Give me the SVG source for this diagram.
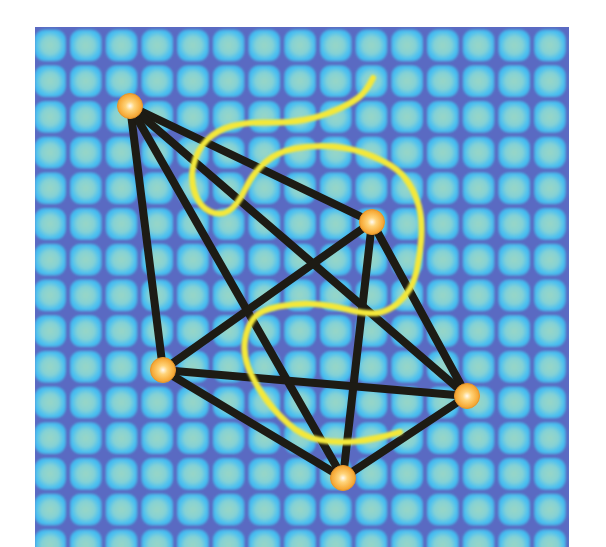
<svg xmlns="http://www.w3.org/2000/svg" width="606" height="547" viewBox="0 0 606 547">
  <defs>
    <radialGradient id="cellGrad" cx="50%" cy="50%" r="60%">
      <stop offset="0" stop-color="#98d6c6"/>
      <stop offset="0.45" stop-color="#86d2d4"/>
      <stop offset="0.75" stop-color="#4cc0f0"/>
      <stop offset="1" stop-color="#3cb2ec"/>
    </radialGradient>
    <pattern id="grid" patternUnits="userSpaceOnUse" x="32.3" y="27.6" width="35.7" height="35.7">
      <rect width="35.7" height="35.7" fill="#5a6ac2"/>
      <rect x="2.3" y="2.3" width="31.1" height="31.1" rx="10" fill="url(#cellGrad)"/>
    </pattern>
    <filter id="soft" x="-5%" y="-5%" width="110%" height="110%">
      <feGaussianBlur stdDeviation="1.3"/>
    </filter>
    <filter id="glow" x="-10%" y="-10%" width="120%" height="120%">
      <feGaussianBlur stdDeviation="0.8"/>
    </filter>
    <clipPath id="gridClip">
      <rect x="35" y="27" width="534" height="520"/>
    </clipPath>
    <radialGradient id="nodeGrad" cx="50%" cy="50%" r="50%">
      <stop offset="0" stop-color="#fffbf2"/>
      <stop offset="0.35" stop-color="#ffd47a"/>
      <stop offset="0.8" stop-color="#f8b040"/>
      <stop offset="1" stop-color="#f0a030"/>
    </radialGradient>
    <style>
      .edge { stroke: #1d1b14; stroke-width: 8; stroke-linecap: round; fill: none; }
      .node { fill: url(#nodeGrad); stroke: #e8962a; stroke-width: 1; }
      .curve { stroke: #f3e83a; stroke-width: 6; fill: none; stroke-linecap: round; stroke-linejoin: round; }
    </style>
  </defs>
  <rect width="606" height="547" fill="#ffffff"/>
  <g id="background" clip-path="url(#gridClip)">
    <rect x="20" y="12" width="566" height="550" fill="url(#grid)" filter="url(#soft)"/>
  </g>
  <g id="connectors">
    <line class="edge" x1="130" y1="106" x2="372" y2="222"/>
    <line class="edge" x1="130" y1="106" x2="163" y2="370"/>
    <line class="edge" x1="130" y1="106" x2="467" y2="396"/>
    <line class="edge" x1="130" y1="106" x2="343" y2="478"/>
    <line class="edge" x1="372" y1="222" x2="163" y2="370"/>
    <line class="edge" x1="372" y1="222" x2="467" y2="396"/>
    <line class="edge" x1="372" y1="222" x2="343" y2="478"/>
    <line class="edge" x1="163" y1="370" x2="467" y2="396"/>
    <line class="edge" x1="163" y1="370" x2="343" y2="478"/>
    <line class="edge" x1="467" y1="396" x2="343" y2="478"/>
  </g>
  <g id="curve">
    <path class="curve" filter="url(#glow)" d="M373,78 Q366,92 358,98 Q350,104 335,110.5 Q320,117 303.5,120 Q287,123 267,122.5 Q247,122 232,126 Q217,130 207,140 Q197,150 193.5,165 Q190,180 195,193.5 Q200,207 210,211.5 Q220,216 228.5,211 Q237,206 245,189.5 Q253,173 265,162.5 Q277,152 295,148.5 Q313,145 333,146.5 Q353,148 373,156.5 Q393,165 401.5,174 Q410,183 415,195 Q420,207 421,218.5 Q422,230 421,241.5 Q420,253 417.5,266.5 Q415,280 410,288.5 Q405,297 397.5,303.5 Q390,310 380,312.5 Q370,315 350,310 Q330,305 313.5,304 Q297,303 278.5,306.5 Q260,310 253.5,318.5 Q247,327 245,340 Q243,353 248,366.5 Q253,380 263,395 Q273,410 288,423.5 Q303,437 320,440 Q337,443 355,441.5 Q373,440 400,432"/>
  </g>
  <g id="node-1"><circle class="node" cx="130" cy="106" r="12.5"/></g>
  <g id="node-2"><circle class="node" cx="372" cy="222" r="12.5"/></g>
  <g id="node-3"><circle class="node" cx="163" cy="370" r="12.5"/></g>
  <g id="node-4"><circle class="node" cx="467" cy="396" r="12.5"/></g>
  <g id="node-5"><circle class="node" cx="343" cy="478" r="12.5"/></g>
</svg>
